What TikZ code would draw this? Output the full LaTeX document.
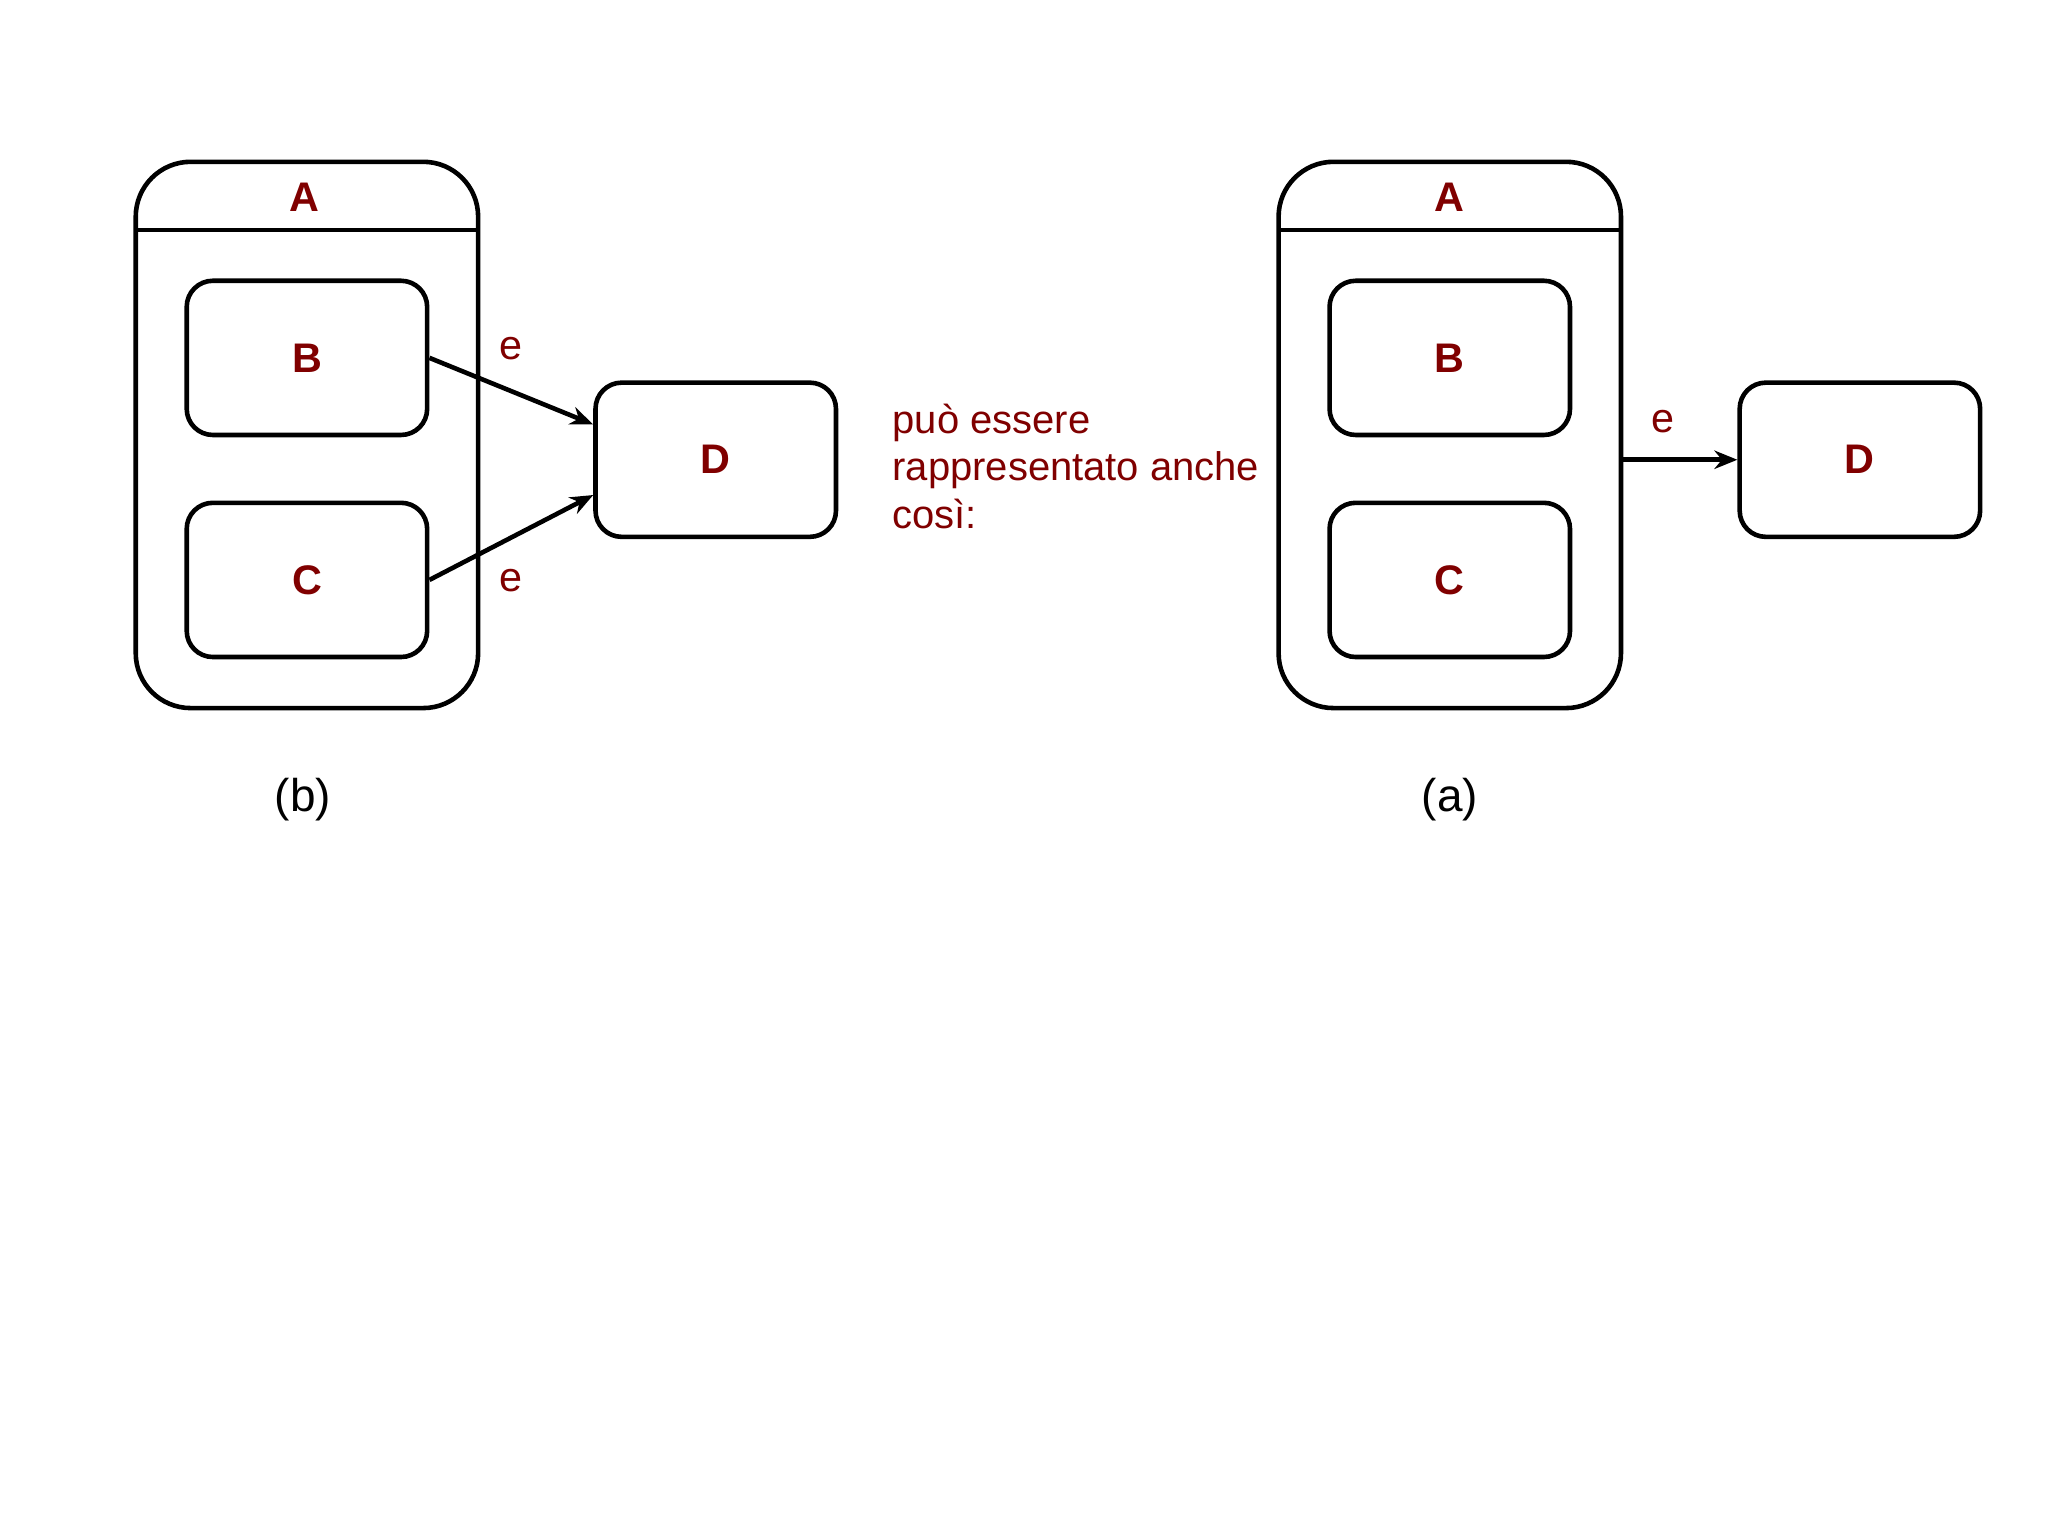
\documentclass[tikz,border=0pt]{standalone}
\usepackage{fontspec}
\setmainfont{Liberation Sans}
\usetikzlibrary{arrows.meta,positioning}
\definecolor{darkred}{rgb}{0.5,0,0}
\tikzset{
  state/.style={draw, line width=1pt, rounded corners=0.2cm, minimum width=1.84cm,
    minimum height=1.18cm, text=darkred, font=\fontsize{9}{10}\selectfont\bfseries},
  super/.style={draw, line width=1pt, rounded corners=0.42cm, minimum width=2.62cm,
    minimum height=4.18cm},
  title/.style={text=darkred, font=\fontsize{9}{10}\selectfont\bfseries},
  trans/.style={line width=1pt, -{Stealth[length=5pt,width=4pt]}},
  lbl/.style={text=darkred, font=\fontsize{9}{10}\selectfont},
  sublbl/.style={font=\fontsize{10}{12}\selectfont}
}
\begin{document}
\begin{tikzpicture}[x=0.01cm, y=-0.01cm]
  \useasboundingbox[fill=white] (0,0) rectangle (1568,1176);

  %Sinistra (b)
  \node[super] (Ab) at (235,333) {};
  \node[title] (Atb) at (233,151) {A};
  \draw[line width=1pt] (104,176) -- (366,176);
  \node[state] (Bb) at (235,274) {B};
  \node[state] (Cb) at (235,444) {C};
  \node[state] (Db) at (548,352) {D};
  \draw[trans] (Bb.east) -- ([yshift=0.27cm]Db.west) node[lbl, pos=0.5, above=3pt] {e};
  \draw[trans] (Cb.east) -- ([yshift=-0.27cm]Db.west) node[lbl, pos=0.5, below=3pt] {e};
  \node[sublbl] (capb) at (232,612) {(b)};

  %Testo
  \node[lbl, align=left, anchor=north west, font=\fontsize{8.7}{10.3}\selectfont] (txt) at (671,297)
    {può essere\\rappresentato anche\\così:};

  %Destra (a)
  \node[super] (Aa) at (1110,333) {};
  \node[title] (Ata) at (1110,151) {A};
  \draw[line width=1pt] (980,176) -- (1241,176);
  \node[state] (Ba) at (1110,274) {B};
  \node[state] (Ca) at (1110,444) {C};
  \node[state] (Da) at (1424,352) {D};
  \draw[trans] (Aa.east |- Da.west) -- (Da.west) node[lbl, pos=0.35, above=2pt] {e};
  \node[sublbl] (capa) at (1110,612) {(a)};
\end{tikzpicture}
\end{document}
